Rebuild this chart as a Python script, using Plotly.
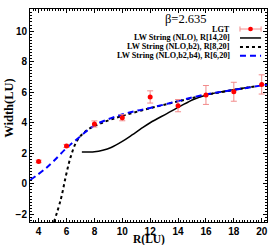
import plotly.graph_objects as go

# LGT data
r_lgt = [4, 6, 8, 10, 12, 14, 16, 18, 20]
w_lgt = [1.47, 2.48, 3.92, 4.33, 5.69, 5.12, 5.82, 6.03, 6.51]
e_lgt = [0.08, 0.1, 0.2, 0.2, 0.4, 0.4, 0.62, 0.62, 0.63]

# LW String (NLO), R[14,20]
r_nlo = [7.1, 8.0, 8.6, 9.2, 10.0, 10.7, 11.3, 12.0, 13.2, 14.2, 15.1, 16.1, 18.0, 19.2]
w_nlo = [2.08, 2.1, 2.2, 2.38, 2.78, 3.2, 3.58, 4.0, 4.6, 5.1, 5.52, 5.84, 6.17, 6.34]

# LW String (NLO,b2), R[8,20]
r_b2 = [5.1, 5.59, 5.95, 6.31, 6.79, 7.5, 8.45, 10.0, 12.0, 14.0, 16.0, 18.0, 19.5]
w_b2 = [-2.5, -1.02, 0.5, 1.8, 2.88, 3.53, 3.96, 4.45, 4.95, 5.4, 5.82, 6.15, 6.38]

# LW String (NLO,b2,b4), R[6,20]
r_b4 = [3.4, 4.4, 5.1, 6.0, 6.7, 7.5, 8.2, 9.2, 10.2, 11.1, 12.0, 13.9, 15.8, 18.0, 20.4]
w_b4 = [0.25, 0.93, 1.51, 2.35, 2.88, 3.5, 3.93, 4.3, 4.6, 4.8, 4.97, 5.4, 5.82, 6.15, 6.5]

x_ticks = [4, 6, 8, 10, 12, 14, 16, 18, 20]
y_ticks = [-2, 0, 2, 4, 6, 8, 10]

legend_labels = ["LGT", "LW String (NLO), R[14,20]", "LW String (NLO,b2), R[8,20]",
                 "LW String (NLO,b2,b4), R[6,20]"]

ERR = "#f28b8b"
fig = go.Figure()
fig.add_trace(go.Scatter(x=r_nlo, y=w_nlo, mode="lines", line=dict(color="black", width=1.5, shape="spline")))
fig.add_trace(go.Scatter(x=r_b2, y=w_b2, mode="lines", line=dict(color="black", width=2, dash="3px,3px", shape="spline")))
fig.add_trace(go.Scatter(x=r_b4, y=w_b4, mode="lines", line=dict(color="#0000ff", width=2, dash="6px,4px", shape="spline")))
fig.add_trace(go.Scatter(x=r_lgt, y=w_lgt, mode="markers",
                         marker=dict(color="#ff0000", size=5),
                         error_y=dict(type="data", array=e_lgt, color=ERR, thickness=1, width=3)))

serif = "Liberation Serif"
rows = [0.906, 0.864, 0.822, 0.781]
for lab, yy in zip(legend_labels, rows):
    fig.add_annotation(xref="paper", yref="paper", x=0.852, y=yy, text=lab, showarrow=False,
                       xanchor="right", yanchor="middle",
                       font=dict(family=serif, size=8.2, color="black", weight="bold"))
x0, x1 = 0.886, 0.975
h = 0.012
fig.add_shape(type="line", xref="paper", yref="paper", x0=x0, x1=x1, y0=rows[0], y1=rows[0],
              line=dict(color=ERR, width=1))
fig.add_shape(type="line", xref="paper", yref="paper", x0=x0, x1=x0, y0=rows[0]-h, y1=rows[0]+h,
              line=dict(color=ERR, width=1))
fig.add_shape(type="line", xref="paper", yref="paper", x0=x1, x1=x1, y0=rows[0]-h, y1=rows[0]+h,
              line=dict(color=ERR, width=1))
fig.add_shape(type="circle", xref="paper", yref="paper", x0=(x0+x1)/2-0.01, x1=(x0+x1)/2+0.01,
              y0=rows[0]-0.011, y1=rows[0]+0.011, fillcolor="#ff0000", line=dict(color="#ff0000", width=0))
fig.add_shape(type="line", xref="paper", yref="paper", x0=x0, x1=x1, y0=rows[1], y1=rows[1],
              line=dict(color="black", width=1.5))
fig.add_shape(type="line", xref="paper", yref="paper", x0=x0, x1=x1, y0=rows[2], y1=rows[2],
              line=dict(color="black", width=2, dash="3px,3px"))
fig.add_shape(type="line", xref="paper", yref="paper", x0=x0, x1=x1, y0=rows[3], y1=rows[3],
              line=dict(color="#0000ff", width=2, dash="6px,4px"))

fig.add_annotation(xref="paper", yref="paper", x=0.66, y=0.952, text="β=2.635", showarrow=False,
                   xanchor="center", yanchor="middle", font=dict(family=serif, size=12.5, color="black"))

# axis titles
fig.add_annotation(xref="paper", yref="paper", x=0.502, y=-0.08, text="R(LU)", showarrow=False,
                   xanchor="center", yanchor="middle",
                   font=dict(family=serif, size=11.5, color="black", weight="bold"))
fig.add_annotation(xref="paper", yref="paper", x=-0.092, y=0.537, text="Width(LU)", showarrow=False,
                   textangle=-90, xanchor="center", yanchor="middle",
                   font=dict(family=serif, size=12.5, color="black", weight="bold"))

axis_common = dict(showline=True, linecolor="black", linewidth=1, mirror="ticks", ticks="inside",
                   ticklen=4, tickcolor="black", showgrid=False, zeroline=False,
                   tickfont=dict(family="Liberation Sans", size=10, color="black", weight="bold"),
                   minor=dict(ticks="inside", ticklen=2, dtick=0.2, tickcolor="black", showgrid=False))
fig.update_xaxes(range=[3.38, 20.38], tickvals=x_ticks, **axis_common)
fig.update_yaxes(range=[-2.5, 11.45], tickvals=y_ticks, **axis_common)
fig.update_layout(width=280, height=245, margin=dict(l=30, r=13, t=8, b=22),
                  plot_bgcolor="white", paper_bgcolor="white", showlegend=False)
fig.write_html("out.html", config={"displayModeBar": False},
               post_script="document.body.style.margin='0px';document.body.style.overflow='hidden';")
